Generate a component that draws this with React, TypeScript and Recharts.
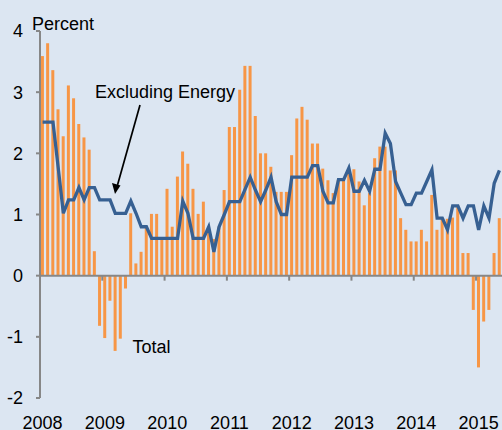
import React from 'react';
import { ComposedChart, Bar, Line, XAxis, YAxis, ReferenceLine } from 'recharts';

const startYear = 2008;

// 12-month change, percent (Jan 2008 .. May 2015)
const totalValues = [
  3.59, 3.8, 3.36, 2.72, 2.28, 3.11, 2.9, 2.48, 2.26, 2.06, 0.4, -0.82,
  -1.02, -0.41, -1.23, -1.03, -0.21, 1.02, 0.2, 0.39, 0.8, 1.01, 1.01, 0.6,
  1.42, 0.8, 1.62, 2.03, 1.83, 1.42, 1.01, 1.21, 0.8, 0.6, 0.8, 1.4,
  2.43, 2.43, 3.04, 3.43, 3.43, 2.61, 2.0, 2.0, 1.78, 1.37, 1.37, 1.37,
  1.97, 2.57, 2.76, 2.55, 2.16, 2.16, 1.75, 1.56, 1.35, 1.56, 1.56, 1.74,
  1.74, 1.54, 1.15, 1.35, 1.92, 2.11, 2.11, 1.72, 1.72, 0.94, 0.75, 0.56,
  0.56, 0.75, 0.56, 1.32, 0.75, 0.93, 0.93, 0.95, 1.12, 0.37, 0.37, -0.56,
  -1.5, -0.75, -0.56, 0.37, 0.94,
];

const exEnergyValues = [
  2.51, 2.51, 2.51, 1.77, 1.02, 1.24, 1.24, 1.44, 1.24, 1.44, 1.44, 1.24,
  1.24, 1.24, 1.02, 1.02, 1.02, 1.22, 1.02, 0.8, 0.8, 0.61, 0.61, 0.61,
  0.61, 0.61, 0.61, 1.22, 1.02, 0.61, 0.61, 0.61, 0.8, 0.39, 0.8, 1.0,
  1.21, 1.21, 1.21, 1.41, 1.61, 1.4, 1.21, 1.4, 1.61, 1.21, 1.0, 1.0,
  1.61, 1.61, 1.61, 1.61, 1.8, 1.8, 1.38, 1.19, 1.19, 1.57, 1.57, 1.76,
  1.38, 1.38, 1.56, 1.38, 1.74, 1.74, 2.33, 2.16, 1.54, 1.35, 1.16, 1.16,
  1.35, 1.35, 1.54, 1.73, 0.94, 0.94, 0.75, 1.14, 1.14, 0.94, 1.14, 1.14,
  0.75, 1.14, 0.94, 1.51, 1.72,
];

const yTicks = [-2, -1, 0, 1, 2, 3, 4];

const data = totalValues.map((total, i) => ({
  month: `${startYear + Math.floor(i / 12)}-${String((i % 12) + 1).padStart(2, '0')}`,
  total,
  exEnergy: exEnergyValues[i],
}));

const yearTicks = data.filter((_, i) => i % 12 === 0).map((d) => d.month);

const W = 502;
const H = 430;
const M = { top: 31, right: 0, bottom: 0, left: 0 };
const Y_AXIS_W = 40;
const X_AXIS_H = 32;
const PLOT_W = W - M.left - M.right - Y_AXIS_W;
const PLOT_H = H - M.top - M.bottom - X_AXIS_H;
const BAND = PLOT_W / data.length;
const ZERO_Y = M.top + (PLOT_H * yTicks[yTicks.length - 1]) / (yTicks[yTicks.length - 1] - yTicks[0]);

const FONT = '"Liberation Sans", Arial, sans-serif';
const AXIS = '#878787';

const YearTick = (props: any) => {
  const { x, payload } = props;
  const tx = x - BAND / 2;
  return (
    <g>
      <line x1={tx} x2={tx} y1={ZERO_Y} y2={ZERO_Y + 5} stroke={AXIS} strokeWidth={2} />
      <text x={x} y={H - 1.5} textAnchor="middle" fontSize={18} fontFamily={FONT} fill="#000">
        {String(payload.value).slice(0, 4)}
      </text>
    </g>
  );
};

export default function App() {
  return (
    <div style={{ position: 'fixed', left: 0, top: 0, width: W, height: H, background: '#dce6f2', overflow: 'hidden' }}>
      <ComposedChart width={W} height={H} data={data} margin={M} barCategoryGap="18%">
        <XAxis
          dataKey="month"
          ticks={yearTicks}
          interval={0}
          axisLine={false}
          tickLine={false}
          height={X_AXIS_H}
          tick={<YearTick />}
        />
        <YAxis
          domain={[-2, 4]}
          ticks={yTicks}
          width={Y_AXIS_W}
          axisLine={{ stroke: AXIS, strokeWidth: 2 }}
          tickLine={{ stroke: AXIS, strokeWidth: 2 }}
          tickSize={4}
          tickMargin={13}
          tick={{ fill: '#000', fontSize: 18, fontFamily: FONT }}
        />
        <Bar dataKey="total" fill="#f79646" isAnimationActive={false} />
        <ReferenceLine y={0} stroke={AXIS} strokeWidth={2} />
        <Line
          type="linear"
          dataKey="exEnergy"
          stroke="#376092"
          strokeWidth={3.3}
          dot={false}
          isAnimationActive={false}
        />
      </ComposedChart>
      <svg width={W} height={H} style={{ position: 'absolute', left: 0, top: 0, pointerEvents: 'none' }}>
        <text x={32} y={29.5} fontSize={18} fontFamily={FONT} fill="#000">Percent</text>
        <text x={95} y={98.3} fontSize={18} fontFamily={FONT} fill="#000">Excluding Energy</text>
        <text x={132.5} y={353} fontSize={18} fontFamily={FONT} fill="#000">Total</text>
        <line x1={140} y1={105} x2={117.5} y2={185} stroke="#000" strokeWidth={1.7} />
        <polygon points="115,194 112,183 120.5,185.5" fill="#000" />
      </svg>
    </div>
  );
}
